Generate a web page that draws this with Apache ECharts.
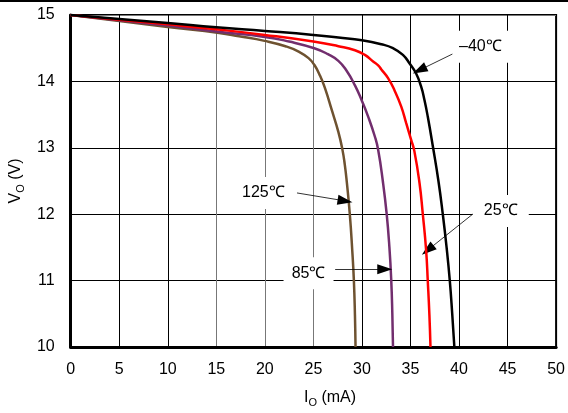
<!DOCTYPE html>
<html>
<head>
<meta charset="utf-8">
<script src="https://cdn.jsdelivr.net/npm/echarts@6/dist/echarts.min.js"></script>
<style>html,body{margin:0;padding:0;background:#fff}#c{width:568px;height:413px}</style>
</head>
<body>
<div id="c"></div>
<script>
// Data (I in mA, V in volts)
const xTicks = [0, 5, 10, 15, 20, 25, 30, 35, 40, 45, 50];
const yTicks = [10, 11, 12, 13, 14, 15];
const seriesNames = ['–40℃', '25℃', '85℃', '125℃'];
const curveM40 = [[0,15.0],[5,14.94],[10,14.88],[15,14.815],[20,14.76],[25,14.70],[27.57,14.66],[30,14.62],[32,14.56],[33.2,14.5],[34.22,14.40],[34.91,14.27],[35.58,14.12],[36.1,13.92],[36.44,13.72],[36.78,13.47],[37.33,13.0],[37.88,12.5],[38.33,12.0],[38.72,11.5],[39.05,11.0],[39.3,10.5],[39.52,10.0]];
const curve25 = [[0,15.0],[5,14.93],[10,14.86],[15,14.785],[20,14.70],[25,14.60],[27.57,14.53],[29.28,14.47],[30.3,14.40],[31.15,14.30],[31.67,14.24],[32.0,14.18],[32.69,14.05],[33.37,13.86],[34.05,13.62],[34.56,13.37],[35.07,13.12],[35.4,12.95],[35.93,12.47],[36.27,12.0],[36.61,11.46],[36.78,11.0],[36.95,10.48],[37.06,10.0]];
const curve85 = [[0,15.0],[5,14.92],[10,14.84],[15,14.75],[20,14.67],[22.5,14.6],[25.09,14.50],[26.5,14.41],[27.57,14.31],[28.42,14.16],[29.28,13.94],[29.96,13.72],[30.64,13.47],[31.33,13.17],[31.67,12.97],[32.15,12.5],[32.55,12.0],[32.83,11.5],[33.02,11.0],[33.13,10.5],[33.2,10.0]];
const curve125 = [[0,15.0],[5,14.91],[10,14.82],[15.3,14.73],[17.34,14.68],[19.97,14.61],[22.12,14.53],[23.48,14.45],[24.5,14.35],[25.09,14.25],[25.7,14.08],[26.21,13.89],[26.89,13.57],[27.57,13.24],[27.98,12.98],[28.24,12.74],[28.45,12.47],[28.75,12.0],[29.0,11.46],[29.17,11.0],[29.28,10.48],[29.34,10.0]];
const colors = ['#000000', '#ff0000', '#722e6e', '#6e5230'];
// annotation label positions and arrows in data coordinates
const labelPos = [[42.2,14.52],[44.3,12.05],[24.5,11.11],[19.85,12.32]];
const labelBox = [[56,32],[56,32],[50,32],[56,32]];
const arrowFrom = [[39.85,14.45],[41.83,12.05],[27.24,11.17],[23.31,12.32]];
const arrowTo = [[35.93,14.17],[36.78,11.46],[32.35,11.17],[28.26,12.2]];
// split line colours, starting from the first line after the axis minimum
const xGridColors = ['#000','#000','#000','#777','#777','#777','#000','#000','#000','#000'];
const yGridColors = ['#777','#000','#000','#000','#000'];

const font = '"Liberation Sans", Arial, sans-serif';
const chart = echarts.init(document.getElementById('c'), null, {renderer:'canvas'});
const curves = [curveM40, curve25, curve85, curve125];

const series = curves.map((d, i) => ({
  name: seriesNames[i], type: 'line', data: d, smooth: 0.5, showSymbol: false,
  lineStyle: {color: colors[i], width: 2.5}, itemStyle: {color: colors[i]}, z: 3 + (3 - i)
}));
series.push({
  type: 'line', data: [], silent: true, z: 10,
  markLine: {
    silent: true, symbol: ['none', 'triangle'], symbolSize: [10, 15],
    lineStyle: {color: '#000', width: 0.8, type: 'solid'}, label: {show: false},
    animation: false,
    data: arrowFrom.map((f, i) => [{coord: f}, {coord: arrowTo[i]}])
  },
  markPoint: {
    silent: true, animation: false, symbol: 'rect',
    itemStyle: {color: '#fff'},
    label: {show: true, color: '#000', fontSize: 16, fontFamily: font, formatter: p => p.name},
    data: labelPos.map((p, i) => ({coord: p, name: seriesNames[i], symbolSize: labelBox[i]}))
  }
});

chart.setOption({
  animation: false,
  backgroundColor: '#fff',
  grid: {left: 70, right: 9, top: 15, bottom: 66, show: true, borderColor: '#000', borderWidth: 2},
  xAxis: {
    type: 'value', min: 0, max: 50, interval: 5,
    axisLine: {show: true, lineStyle: {color: '#000', width: 3}},
    axisTick: {show: false},
    axisLabel: {color: '#000', fontSize: 16, fontFamily: font, margin: 15, formatter: v => xTicks.includes(v) ? String(v) : ''},
    splitLine: {show: true, lineStyle: {color: xGridColors, width: 1}}
  },
  yAxis: {
    type: 'value', min: 10, max: 15, interval: 1,
    axisLine: {show: true, lineStyle: {color: '#000', width: 3}},
    axisTick: {show: false},
    axisLabel: {color: '#000', fontSize: 16, fontFamily: font, margin: 16, formatter: v => yTicks.includes(v) ? String(v) : ''},
    splitLine: {show: true, lineStyle: {color: yGridColors, width: 1}},
    name: '{a|V}{s|O}{a| (V)}', nameLocation: 'middle', nameRotate: 90, nameGap: 44,
    nameTextStyle: {rich: {
      a: {fontSize: 16, fontFamily: font, color: '#000', lineHeight: 20},
      s: {fontSize: 11, fontFamily: font, color: '#000', lineHeight: 20, verticalAlign: 'bottom'}
    }}
  },
  graphic: [
    {type: 'rect', left: 0, top: 0, shape: {width: 568, height: 2}, style: {fill: '#000'}, silent: true},
    {type: 'text', x: 330, y: 398, style: {
      text: '{a|I}{s|O}{a| (mA)}', align: 'center', verticalAlign: 'middle',
      rich: {
        a: {fontSize: 16, fontFamily: font, fill: '#000', lineHeight: 20},
        s: {fontSize: 11, fontFamily: font, fill: '#000', lineHeight: 20, verticalAlign: 'bottom'}
      }
    }}
  ],
  series: series
});
</script>
</body>
</html>
